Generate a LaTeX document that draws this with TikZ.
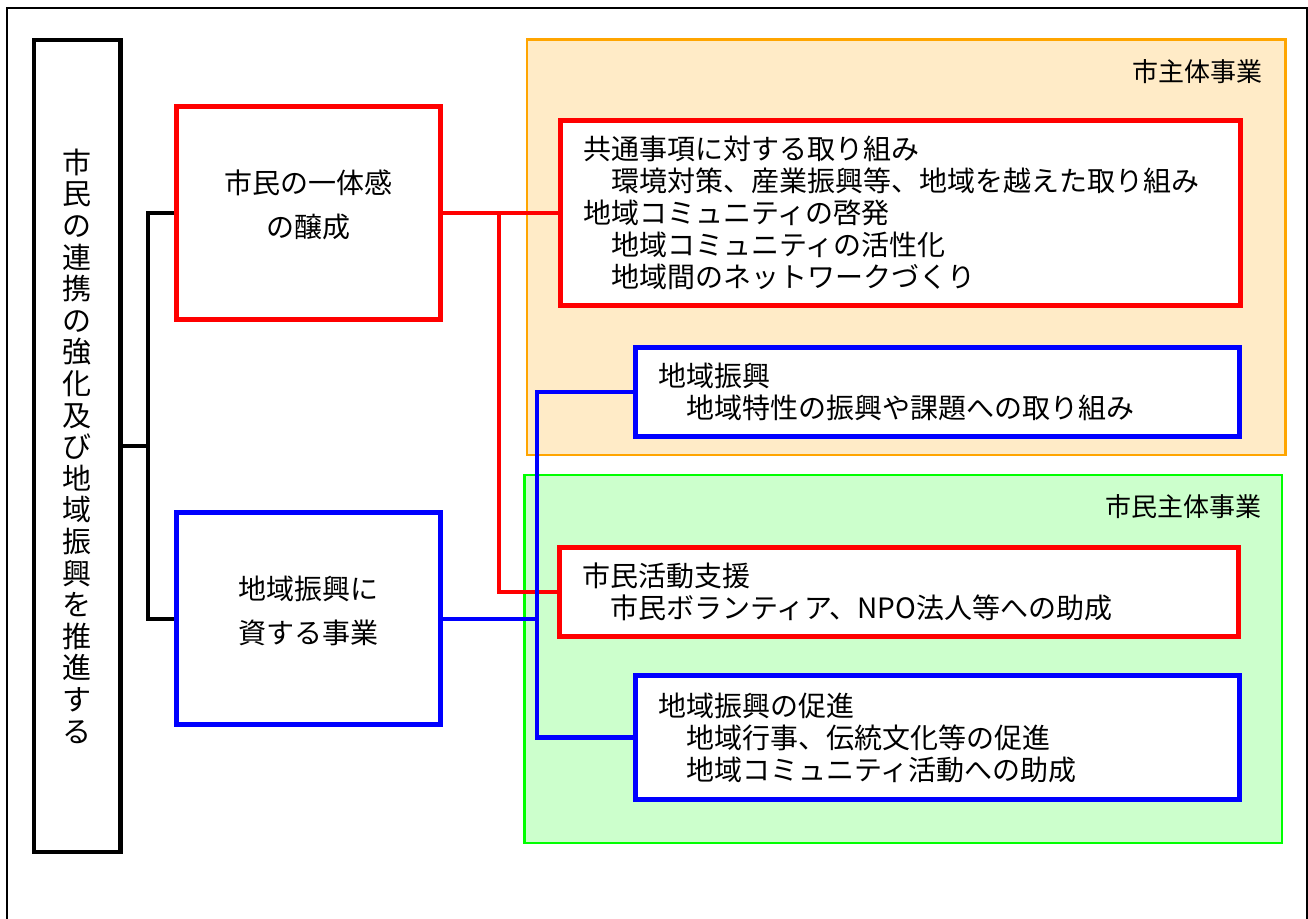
\documentclass[tikz,border=0pt]{standalone}
\usepackage{fontspec}
\setmainfont{Noto Sans CJK JP}
\definecolor{zone1}{RGB}{255,165,0}
\definecolor{zone2}{RGB}{0,255,0}

\begin{document}
\begin{tikzpicture}[x=0.5pt,y=-0.5pt]
        \tikzset{
            txt/.style={font=\fontsize{14pt}{16pt}\selectfont},
            mb/.style={draw=black, line width=2.2pt, fill=white, align=center,
            inner sep=0pt, font=\fontsize{14.5pt}{15.8pt}\selectfont},
            rb/.style={draw=red, line width=2.5pt, fill=white, inner xsep=11.25pt,
            inner ysep=0pt, align=left, txt},
            bb/.style={draw=blue, line width=2.5pt, fill=white, inner xsep=11.25pt,
            inner ysep=0pt, align=left, txt},
            cb/.style={align=center, inner sep=0pt, text depth=9pt,
            font=\fontsize{14pt}{22pt}\selectfont},
            z1/.style={draw=zone1, line width=1.2pt, fill=zone1!22},
            z2/.style={draw=zone2, line width=1.4pt, fill=zone2!20},
            zl/.style={anchor=east, inner sep=0pt, font=\fontsize{13pt}{15pt}\selectfont},
            c1/.style={black, line width=2.2pt},
            c2/.style={red, line width=2.2pt},
            c3/.style={blue, line width=2.2pt}
            }

            \useasboundingbox (0,0) rectangle (1308,919);
            \draw[line width=1pt] (7,925) -- (7,8) -- (1307,8) -- (1307,925);

            \draw[z1] (527,39.5) rectangle (1285.5,455);
            \draw[z2] (524.5,475) rectangle (1282,843);
            \node[zl] (l1) at (1263,71.5) {市主体事業};
            \node[zl] (l2) at (1262,507) {市民主体事業};

            \node[mb, minimum width=43.25pt, minimum height=406.25pt] (m) at (77.25,446)
            {市\\民\\の\\連\\携\\の\\強\\化\\及\\び\\地\\域\\振\\興\\を\\推\\進\\す\\る};
            \node[rb, cb, minimum width=132.25pt, minimum height=106.5pt] (r1) at (308.25,213)
            {市民の一体感\\の醸成};
            \node[bb, cb, minimum width=132.25pt, minimum height=106pt] (b1) at (308.25,619)
            {地域振興に\\資する事業};
            \node[rb, text width=317.5pt, minimum height=92.5pt] (r2) at (900.5,213)
            {共通事項に対する取り組み\\　環境対策、産業振興等、地域を越えた取り組み\\地域コミュニティの啓発\\　地域コミュニティの活性化\\　地域間のネットワークづくり};
            \node[bb, text width=279.5pt, minimum height=44.75pt] (b2) at (937.5,392)
            {地域振興\\　地域特性の振興や課題への取り組み};
            \node[rb, text width=316.75pt, minimum height=44.25pt] (r3) at (898.75,592)
            {市民活動支援\\　市民ボランティア、NPO法人等への助成};
            \node[bb, text width=279.5pt, minimum height=62.25pt] (b3) at (937.5,737.5)
            {地域振興の促進\\　地域行事、伝統文化等の促進\\　地域コミュニティ活動への助成};

            \coordinate (k) at (148,446);
            \coordinate (rs) at (499,213);
            \coordinate (bs) at (537,619);

            \draw[c1] (m.east) -- (k);
            \draw[c1] (r1.west) -| (k) |- (b1.west);
            \draw[c2] (r1.east) -- (r2.west);
            \draw[c2] (rs) |- (r3.west);
            \draw[c3] (b1.east) -- (bs);
            \draw[c3] (b2.west) -| (bs) |- (b3.west);
        \end{tikzpicture}
\end{document}
